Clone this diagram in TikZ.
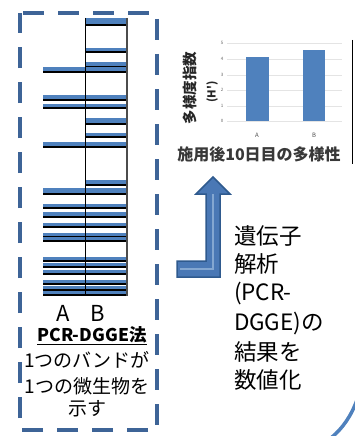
\documentclass[tikz,border=0pt]{standalone}
\usepackage{fontspec}
\setmainfont{Noto Sans CJK JP}
\newfontfamily\jp{Noto Sans CJK JP}
\definecolor{dashblue}{HTML}{3E6497}
\definecolor{bandblue}{HTML}{4F81BD}
\definecolor{arrowblue}{HTML}{4A78B5}
\definecolor{arrowedge}{HTML}{2F5A8E}
\definecolor{gridgray}{HTML}{E4E4E4}
\begin{document}
\begin{tikzpicture}[x=1pt,y=-1pt,
  txt/.style={inner sep=0pt, outer sep=0pt},
  lefttxt/.style={txt, font=\jp\fontsize{19}{19}\selectfont},
  righttxt/.style={txt, anchor=west, font=\jp\fontsize{22.5}{22.5}\selectfont},
  tick/.style={txt, font=\jp\fontsize{4.5}{4.5}\selectfont, text=black!60},
  bandline/.style={black, line width=1.1pt},
  bar/.style={fill=bandblue, draw=none}]
\useasboundingbox (0,0) rectangle (355,436);
\fill[white] (0,0) rectangle (355,436);

% dashed frame
\draw[dashblue, line width=3.8pt, dash pattern=on 21pt off 14pt, dash phase=32pt]
  (20,13) -- (157,13) -- (157,430) -- (20,430) -- cycle;

% gel bands
\foreach \xa/\ya/\yb in {85/18/25, 85/48/52, 85/62/67, 43/67/72, 43/95/100, 43/104/108,
  85/118/124, 85/133/137, 43/142/147, 85/180/185, 43/188/194, 43/204/208, 43/212/217,
  43/223/227, 43/233/237, 43/237/241, 43/257/261, 43/263/267, 43/270/274, 43/280/284,
  43/286/290, 43/291/295}{
  \fill[bandblue] (\xa,\ya) rectangle (127,\yb);
  \draw[bandline] (\xa,\yb) -- (127,\yb);
}
\draw[black, line width=0.9pt] (85,18) -- (85,296);
\draw[black!70, line width=1.3pt] (127,18) -- (127,296);

% lane labels and caption
\node[txt, font=\jp\fontsize{22}{22}\selectfont] (la) at (63,313) {A};
\node[txt, font=\jp\fontsize{22}{22}\selectfont] (lb) at (98,313) {B};
\node[txt, font=\jp\bfseries\fontsize{17.5}{17.5}\selectfont, anchor=base] (pcr) at (92,341) {PCR-DGGE法};
\draw[black, line width=1pt] ([yshift=-3pt]pcr.base west) -- ([yshift=-3pt]pcr.base east);
\node[lefttxt] (l1) at (87,360) {1つのバンドが};
\node[lefttxt] (l2) at (87,386) {1つの微生物を};
\node[lefttxt] (l3) at (87,409) {示す};

% chart
\foreach \v/\yy in {0/121,1/106,2/90,3/75,4/59,5/43}{
  \draw[gridgray, line width=0.6pt] (227,\yy) -- (342,\yy);
  \node[tick] (t\v) at (222,\yy) {\v};
}
\fill[bar] (246,57) rectangle (269,121);
\fill[bar] (303,50) rectangle (325,121);
\node[txt, font=\jp\fontsize{6}{6}\selectfont, text=black!70] (xa) at (257,135) {A};
\node[txt, font=\jp\fontsize{6}{6}\selectfont, text=black!70] (xb) at (314,135) {B};
\node[txt, rotate=90, font=\jp\bfseries\fontsize{14.5}{14.5}\selectfont, text=black!85] (yt) at (190,88) {多様度指数};
\node[txt, rotate=90, font=\jp\bfseries\fontsize{11}{11}\selectfont, text=black!85] (yh) at (212,92) {(H')};
\node[txt, font=\jp\bfseries\fontsize{16}{16}\selectfont, text=black!78] (ct) at (259,154) {施用後10日目の多様性};
\draw[black, line width=1pt] (352,40) -- (352,164);

% L-shaped arrow
\filldraw[fill=arrowblue, draw=arrowedge, line width=1.5pt, line join=miter]
  (213,177) -- (230,194) -- (220,194) -- (220,277) -- (177,277) -- (177,261)
  -- (206,261) -- (206,194) -- (196,194) -- cycle;
\draw[bandblue!70, line width=2pt] (213,194) -- (213,269) -- (180,269);

% right text
\node[righttxt] (r1) at (234,236) {遺伝子};
\node[righttxt] (r2) at (234,264) {解析};
\node[righttxt] (r3) at (234,293) {(PCR-};
\node[righttxt] (r4) at (234,323) {DGGE)の};
\node[righttxt] (r5) at (234,352) {結果を};
\node[righttxt] (r6) at (234,380) {数値化};

% arc at bottom right
\draw[bandblue, line width=3.5pt] (357,400) .. controls (351,416) and (343,428) .. (331,438);
\end{tikzpicture}
\end{document}
